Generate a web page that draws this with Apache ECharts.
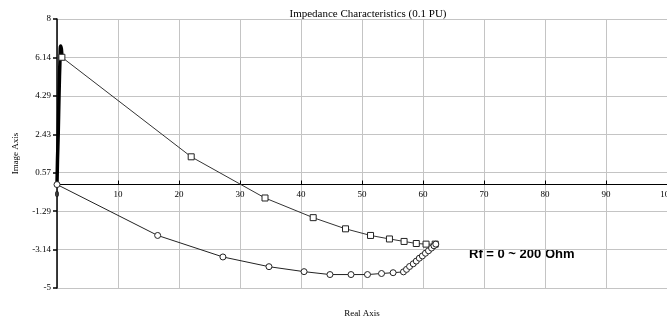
<!DOCTYPE html>
<html>
<head>
<meta charset="utf-8">
<script src="https://cdn.jsdelivr.net/npm/echarts@6/dist/echarts.min.js"></script>
<style>
  html, body { margin: 0; padding: 0; background: #fff; }
  #chart { width: 667px; height: 320px; }
</style>
</head>
<body>
<div id="chart"></div>
<script>
var chartDom = document.getElementById('chart');
var myChart = echarts.init(chartDom);

// thick dense trace near the origin
var startTrace = [[0, 0], [0.08, 1.2], [0.2, 2.43], [0.33, 4.29], [0.5, 6.14], [0.6, 6.7], [0.72, 6.55], [0.8, 6.15]];
// square-marker trajectory
var squareSeries = [[0.8, 6.15], [22.0, 1.34], [34.1, -0.65], [42.0, -1.6], [47.3, -2.14], [51.4, -2.46], [54.5, -2.63], [56.9, -2.75], [58.9, -2.85], [60.5, -2.88], [62.0, -2.88]];
// circle-marker trajectory
var circleSeries = [[0, 0], [16.5, -2.46], [27.2, -3.5], [34.75, -3.97], [40.5, -4.21], [44.75, -4.35], [48.2, -4.35], [50.9, -4.35], [53.2, -4.3], [55.1, -4.26], [56.8, -4.22],
  [57.3, -4.1], [57.8, -3.96], [58.4, -3.83], [58.9, -3.7], [59.4, -3.56], [59.9, -3.45], [60.4, -3.32], [60.9, -3.2], [61.4, -3.07], [61.8, -2.96], [62.1, -2.88]];

var serif = '"Liberation Serif", "DejaVu Serif", serif';

var option = {
  animation: false,
  title: {
    text: 'Impedance Characteristics (0.1 PU)',
    left: 363,
    top: 4,
    textAlign: 'center',
    textStyle: { fontFamily: serif, fontSize: 11, fontWeight: 'normal', color: '#000' }
  },
  grid: { left: 57, right: 0, top: 19, bottom: 32, outerBoundsMode: 'none', containLabel: false },
  xAxis: {
    type: 'value',
    min: 0,
    max: 100,
    interval: 10,
    name: 'Real Axis',
    nameLocation: 'middle',
    nameGap: 21,
    nameTextStyle: { fontFamily: serif, fontSize: 9, color: '#000' },
    axisLine: { onZero: true, lineStyle: { color: '#000', width: 1 } },
    axisTick: { show: true, inside: true, length: 4, lineStyle: { color: '#000' } },
    axisLabel: { fontFamily: serif, fontSize: 9, color: '#000', margin: -98 },
    splitLine: { show: true, lineStyle: { color: '#c4c4c4', width: 1 } }
  },
  yAxis: {
    type: 'value',
    min: -5,
    max: 8,
    interval: 13 / 7,
    name: 'Image Axis',
    nameLocation: 'middle',
    nameGap: 37,
    nameTextStyle: { fontFamily: serif, fontSize: 9, color: '#000' },
    axisLine: { show: true, lineStyle: { color: '#000', width: 1.5 } },
    axisTick: { show: true, length: 4, lineStyle: { color: '#000', width: 1.5 } },
    axisLabel: {
      fontFamily: serif, fontSize: 9, color: '#000', margin: 6,
      formatter: function (v) { return String(Math.round(v * 100) / 100); }
    },
    splitLine: { show: true, lineStyle: { color: '#c4c4c4', width: 1 } }
  },
  series: [
    {
      type: 'line',
      data: startTrace,
      showSymbol: false,
      smooth: true,
      lineStyle: { color: '#000', width: 3.5 },
      z: 3
    },
    {
      type: 'line',
      data: squareSeries,
      symbol: 'rect',
      symbolSize: 6,
      itemStyle: { color: '#fff', borderColor: '#222', borderWidth: 1 },
      lineStyle: { color: '#333', width: 1 }
    },
    {
      type: 'line',
      data: circleSeries,
      symbol: 'circle',
      symbolSize: 6,
      itemStyle: { color: '#fff', borderColor: '#222', borderWidth: 1 },
      lineStyle: { color: '#222', width: 1 }
    }
  ],
  graphic: [
    {
      type: 'text',
      left: 469,
      top: 248,
      style: {
        text: 'Rf = 0 ~ 200 Ohm',
        font: 'bold 13px "Liberation Sans", Arial, sans-serif',
        fill: '#000'
      }
    }
  ]
};

myChart.setOption(option);

window.onresize = () => {
  myChart.resize();
}
</script>
</body>
</html>
